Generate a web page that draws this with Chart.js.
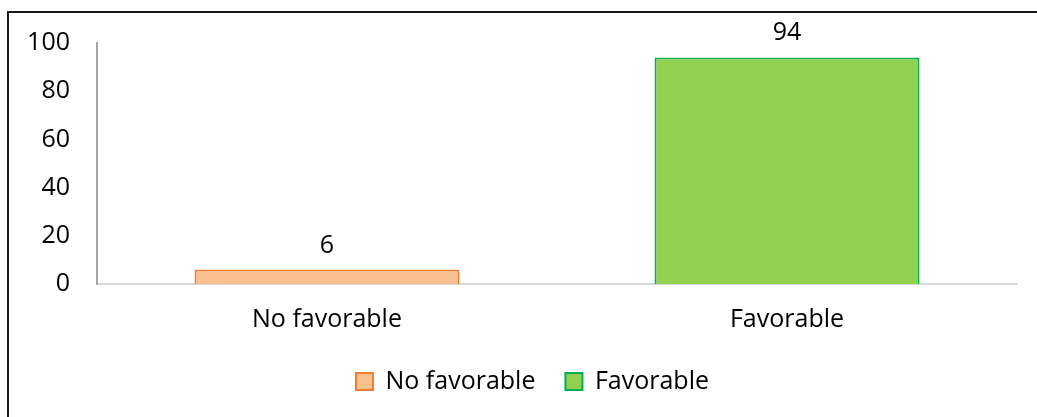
<!DOCTYPE html>
<html>
<head>
<meta charset="utf-8">
<script src="https://cdn.jsdelivr.net/npm/chart.js@4.4.1/dist/chart.umd.min.js"></script>
<style>
  html, body { margin: 0; padding: 0; background: #fff; }
  #wrap { position: relative; width: 1037px; height: 417px; overflow: hidden; }
  #frame {
    position: absolute; left: 7px; top: 11px; right: -5px; bottom: -5px;
    border-top: 2px solid #1a1a1a; border-left: 2px solid #1a1a1a;
    pointer-events: none;
  }
</style>
</head>
<body>
<div id="wrap">
  <canvas id="chart" width="1037" height="417"></canvas>
  <div id="frame"></div>
</div>
<script>
const categories = ['No favorable', 'Favorable'];
const values = [6, 94];
const yTicks = [0, 20, 40, 60, 80, 100];
const fillColors = ['#F8C08F', '#92D050'];
const borderColors = ['#ED7D31', '#00B050'];

const FONT = '"Open Sans", "Noto Sans", sans-serif';
const FONT_SIZE = 25;

// numbers above the bars
const valueLabels = {
  id: 'valueLabels',
  afterDatasetsDraw(chart) {
    const ctx = chart.ctx;
    const meta = chart.getDatasetMeta(0);
    ctx.save();
    ctx.font = FONT_SIZE + 'px ' + FONT;
    ctx.fillStyle = '#000';
    ctx.textAlign = 'center';
    ctx.textBaseline = 'alphabetic';
    meta.data.forEach((bar, i) => {
      ctx.fillText(String(values[i]), bar.x, bar.y - 17);
    });
    ctx.restore();
  }
};

// the legend sits centred on the whole frame, a bit right of the plot
const shiftLegend = {
  id: 'shiftLegend',
  afterLayout(chart) {
    if (chart.legend) {
      chart.legend.left += 24;
      chart.legend.right += 24;
    }
  }
};

const ctx = document.getElementById('chart').getContext('2d');
new Chart(ctx, {
  type: 'bar',
  data: {
    labels: categories,
    datasets: [{
      label: 'Value',
      data: values,
      backgroundColor: fillColors,
      borderColor: borderColors,
      borderWidth: 2,
      borderSkipped: 'bottom',
      categoryPercentage: 0.576,
      barPercentage: 1
    }]
  },
  options: {
    responsive: false,
    animation: false,
    layout: { padding: { top: 43, right: 20, left: 0, bottom: 13 } },
    scales: {
      x: {
        grid: { display: false },
        border: { display: true, color: '#d9d9d9', width: 2 },
        ticks: { color: '#000', font: { family: FONT, size: FONT_SIZE }, padding: 13 },
        afterFit: s => { s.height = 55; }
      },
      y: {
        min: 0,
        max: 100,
        afterBuildTicks: s => { s.ticks = yTicks.map(v => ({ value: v })); },
        grid: { display: false },
        border: { display: true, color: '#a6a6a6', width: 2 },
        ticks: { color: '#000', font: { family: FONT, size: FONT_SIZE }, padding: 19 },
        afterFit: s => { s.width = 97; }
      }
    },
    plugins: {
      tooltip: { enabled: false },
      legend: {
        position: 'bottom',
        labels: {
          color: '#000',
          font: { family: FONT, size: FONT_SIZE },
          boxWidth: 17,
          boxHeight: 17,
          padding: 30,
          generateLabels: () => categories.map((c, i) => ({
            text: c,
            fillStyle: fillColors[i],
            strokeStyle: borderColors[i],
            lineWidth: 2,
            hidden: false,
            index: i,
            fontColor: '#000'
          }))
        }
      }
    }
  },
  plugins: [valueLabels, shiftLegend]
});
</script>
</body>
</html>
